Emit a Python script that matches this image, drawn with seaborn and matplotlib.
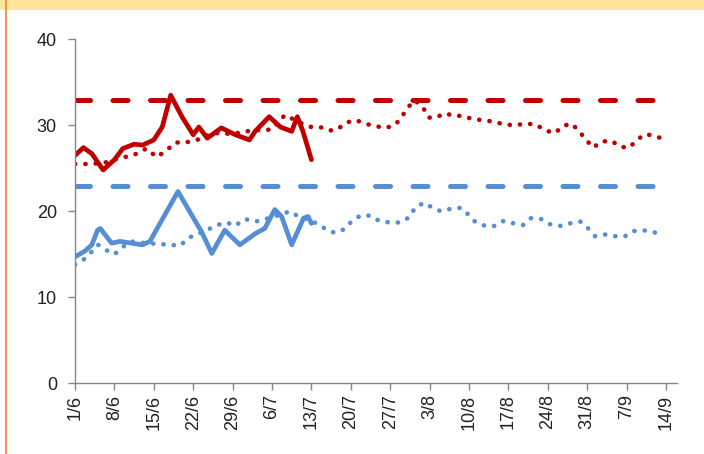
import numpy as np
import pandas as pd
import matplotlib
matplotlib.use("Agg")
import matplotlib.pyplot as plt
from matplotlib.patches import Rectangle
import seaborn as sns

sns.set_theme(style="white")
plt.rcParams['font.family'] = ['Liberation Sans', 'DejaVu Sans']

# x axis: days since 1/6, weekly tick labels
tick_days = list(range(0, 106, 7))
tick_labels = ["1/6", "8/6", "15/6", "22/6", "29/6", "6/7", "13/7", "20/7",
               "27/7", "3/8", "10/8", "17/8", "24/8", "31/8", "7/9", "14/9"]

# red series
red_solid_day = [0, 1.5, 3, 5, 7, 8.5, 10.5, 12, 14, 15.5, 17, 19, 21, 22, 23.5,
                 26, 28.5, 31, 32, 34.5, 36.5, 38.5, 39.5, 40.5, 42]
red_solid = [26.5, 27.4, 26.7, 24.8, 26.0, 27.3, 27.8, 27.7, 28.3, 29.8, 33.5, 31.0,
             28.9, 29.8, 28.5, 29.7, 28.9, 28.3, 29.3, 31.0, 29.8, 29.3, 31.0, 29.3, 26.0]

red_dot_day = [0, 2, 5, 8, 10.3, 12.7, 14.5, 16.3, 17.8, 19.5, 21.3, 24.6, 28, 31.4,
               34.9, 37.3, 40, 42, 43.5, 45.3, 46.6, 48.1, 49.9, 51.5, 53.4, 55.2,
               56.8, 58, 59, 60.4, 61.9, 62.8, 64.1, 65.7, 67.3, 68.9, 70.7, 72.6,
               74.5, 76.3, 78.2, 80, 81.9, 83.5, 85.3, 86.6, 88.2, 89.6, 90.8, 92.1,
               93.4, 95.3, 96.9, 98.5, 99.8, 101.4, 103, 105]
red_dot = [25.5, 25.5, 25.6, 26.2, 26.5, 27.3, 26.3, 27.1, 28.0, 28.0, 28.2, 29.1,
           29.0, 29.4, 29.5, 31.2, 30.3, 29.8, 29.8, 29.4, 29.5, 30.3, 30.6, 30.2,
           29.9, 29.7, 30.0, 30.9, 32.0, 32.9, 32.0, 30.9, 30.9, 31.4, 31.1, 31.1,
           30.7, 30.6, 30.4, 30.1, 30.0, 30.2, 30.1, 29.4, 29.1, 29.9, 30.2, 29.3,
           28.3, 27.4, 28.1, 28.2, 27.5, 27.4, 28.3, 29.0, 28.7, 28.4]
red_target = 33

# blue series
blue_solid_day = [0, 1.8, 3, 4, 4.5, 6.5, 8, 10, 12, 13.3, 18.3, 20.7, 22.5, 24.3,
                  26.6, 29.3, 32, 33.7, 35.5, 36.7, 38.5, 40.6, 41.4, 42]
blue_solid = [14.7, 15.4, 16.1, 17.8, 18.0, 16.3, 16.5, 16.3, 16.1, 16.5, 22.3, 19.6,
              17.6, 15.1, 17.8, 16.1, 17.4, 18.0, 20.2, 19.4, 16.1, 19.2, 19.4, 18.6]

blue_dot_day = [0, 1.8, 4.1, 5.5, 7, 8.6, 10, 12.4, 15.1, 18.7, 20.1, 23.4, 25.2, 27,
                28.4, 30.2, 32, 35, 38.2, 39.7, 42.3, 44.4, 46.1, 47.8, 49.1, 50.7,
                52.5, 54, 55.8, 57.7, 59.4, 60.4, 62, 63.3, 65, 66.8, 68.6, 69.9, 71.2,
                72.9, 74.6, 76.2, 77.9, 79.6, 81, 82.8, 84.4, 86.3, 88, 89.8, 91.2,
                92.4, 94.2, 96, 97.7, 99.2, 100.9, 102.7, 104.6]
blue_dot = [13.8, 14.5, 16.1, 15.5, 15.0, 15.9, 16.5, 16.3, 16.2, 16.0, 16.9, 17.8,
            18.4, 18.7, 18.3, 19.1, 18.8, 19.3, 20.0, 19.4, 18.8, 18.0, 17.5, 17.9,
            18.8, 19.5, 19.5, 18.9, 18.7, 18.7, 19.3, 20.4, 21.0, 20.5, 20.0, 20.3,
            20.4, 19.6, 18.7, 18.3, 18.3, 18.9, 18.6, 18.4, 19.2, 19.1, 18.5, 18.3,
            18.6, 18.8, 18.0, 17.1, 17.3, 17.1, 17.1, 17.7, 17.8, 17.6, 17.2]
blue_target = 23

target_days = [0, 105]

RED = "#C00000"
BLUE = "#558ED5"

fig = plt.figure(figsize=(7.04, 4.54), dpi=100)
# frame remnants of the surrounding panel
fig.patches.append(Rectangle((0, 1 - 10 / 454), 1, 10 / 454, transform=fig.transFigure,
                             facecolor="#FFE599", edgecolor="none", zorder=0))
fig.patches.append(Rectangle((4.5 / 704, 0), 2.5 / 704, 1, transform=fig.transFigure,
                             facecolor="#F79646", edgecolor="none", zorder=1))

ax = fig.add_axes([75 / 704, 1 - 383.3 / 454, (676.7 - 75) / 704, (383.3 - 39.3) / 454])

dashed = dict(lw=3.6, linestyle=(0, (3, 4.5)), dash_capstyle="round")
dotted = dict(lw=3.3, linestyle=(0, (0.05, 2.2)), dash_capstyle="round")
solid = dict(lw=3.4, solid_capstyle="round", solid_joinstyle="round")

sns.lineplot(x=target_days, y=[red_target] * 2, color=RED, ax=ax, **dashed)
sns.lineplot(x=target_days, y=[blue_target] * 2, color=BLUE, ax=ax, **dashed)
sns.lineplot(x=red_dot_day, y=red_dot, color=RED, ax=ax, **dotted)
sns.lineplot(x=blue_dot_day, y=blue_dot, color=BLUE, ax=ax, **dotted)
sns.lineplot(x=red_solid_day, y=red_solid, color=RED, ax=ax, **solid)
sns.lineplot(x=blue_solid_day, y=blue_solid, color=BLUE, ax=ax, **solid)

ax.set_xlim(0, 106.9)
ax.set_ylim(0, 40)
ax.set_yticks([0, 10, 20, 30, 40])
ax.set_xticks(tick_days)
ax.set_xticklabels(tick_labels, rotation=90)
ax.set_xlabel("")
ax.set_ylabel("")

for side in ["top", "right"]:
    ax.spines[side].set_visible(False)
for side in ["left", "bottom"]:
    ax.spines[side].set_color("#868686")
    ax.spines[side].set_linewidth(1.0)
ax.tick_params(axis="y", direction="out", length=5, width=1, color="#868686",
               pad=8, labelsize=13, labelcolor="#222222", left=True)
ax.tick_params(axis="x", direction="out", length=5, width=1, color="#868686",
               pad=3, labelsize=13, labelcolor="#222222", bottom=True)

fig.savefig("out.png", dpi=100)
